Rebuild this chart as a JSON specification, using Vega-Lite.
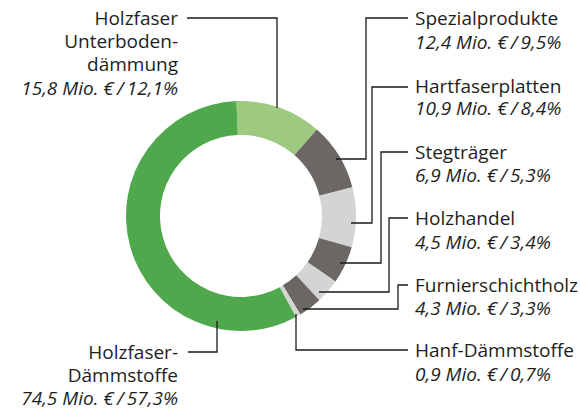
{
  "$schema": "https://vega.github.io/schema/vega-lite/v6.json",
  "width": 580,
  "height": 410,
  "autosize": {"type": "fit", "contains": "padding"},
  "padding": 0,
  "background": "white",
  "config": {"view": {"stroke": null}, "text": {"font": "Open Sans"}},
  "datasets": {
    "segments": [
      {"name": "Holzfaser Unterbodendämmung", "mio": 15.8, "pct": 12.1, "rank": 1},
      {"name": "Spezialprodukte", "mio": 12.4, "pct": 9.5, "rank": 2},
      {"name": "Hartfaserplatten", "mio": 10.9, "pct": 8.4, "rank": 3},
      {"name": "Stegträger", "mio": 6.9, "pct": 5.3, "rank": 4},
      {"name": "Holzhandel", "mio": 4.5, "pct": 3.4, "rank": 5},
      {"name": "Furnierschichtholz", "mio": 4.3, "pct": 3.3, "rank": 6},
      {"name": "Hanf-Dämmstoffe", "mio": 0.9, "pct": 0.7, "rank": 7},
      {"name": "Holzfaser-Dämmstoffe", "mio": 74.5, "pct": 57.3, "rank": 8}
    ],
    "labels": [
      {"name": "Holzfaser Unterbodendämmung", "label": "Holzfaser\nUnterboden-\ndämmung", "side": "left", "x": 178, "ny": 24.8, "y": 89},
      {"name": "Spezialprodukte", "label": "Spezialprodukte", "side": "right", "x": 415, "ny": 24.8, "y": 43},
      {"name": "Hartfaserplatten", "label": "Hartfaserplatten", "side": "right", "x": 415, "ny": 92.8, "y": 109},
      {"name": "Stegträger", "label": "Stegträger", "side": "right", "x": 415, "ny": 158.8, "y": 176},
      {"name": "Holzhandel", "label": "Holzhandel", "side": "right", "x": 415, "ny": 224.8, "y": 243},
      {"name": "Furnierschichtholz", "label": "Furnierschichtholz", "side": "right", "x": 415, "ny": 291.8, "y": 309},
      {"name": "Hanf-Dämmstoffe", "label": "Hanf-Dämmstoffe", "side": "right", "x": 415, "ny": 356.8, "y": 375},
      {"name": "Holzfaser-Dämmstoffe", "label": "Holzfaser-\nDämmstoffe", "side": "left", "x": 178, "ny": 358.8, "y": 399}
    ],
    "leaders": [
      {"name": "Holzfaser Unterbodendämmung", "pt": 1, "x": 187, "y": 18},
      {"name": "Holzfaser Unterbodendämmung", "pt": 2, "x": 277, "y": 18},
      {"name": "Holzfaser Unterbodendämmung", "pt": 3, "x": 277, "y": 108},
      {"name": "Spezialprodukte", "pt": 1, "x": 408, "y": 18},
      {"name": "Spezialprodukte", "pt": 2, "x": 366, "y": 18},
      {"name": "Spezialprodukte", "pt": 3, "x": 366, "y": 159},
      {"name": "Spezialprodukte", "pt": 4, "x": 336, "y": 159},
      {"name": "Hartfaserplatten", "pt": 1, "x": 408, "y": 87},
      {"name": "Hartfaserplatten", "pt": 2, "x": 372, "y": 87},
      {"name": "Hartfaserplatten", "pt": 3, "x": 372, "y": 223},
      {"name": "Hartfaserplatten", "pt": 4, "x": 351, "y": 223},
      {"name": "Stegträger", "pt": 1, "x": 408, "y": 152},
      {"name": "Stegträger", "pt": 2, "x": 381, "y": 152},
      {"name": "Stegträger", "pt": 3, "x": 381, "y": 263},
      {"name": "Stegträger", "pt": 4, "x": 340, "y": 263},
      {"name": "Holzhandel", "pt": 1, "x": 408, "y": 218},
      {"name": "Holzhandel", "pt": 2, "x": 389, "y": 218},
      {"name": "Holzhandel", "pt": 3, "x": 389, "y": 292},
      {"name": "Holzhandel", "pt": 4, "x": 319, "y": 292},
      {"name": "Furnierschichtholz", "pt": 1, "x": 408, "y": 285},
      {"name": "Furnierschichtholz", "pt": 2, "x": 398, "y": 285},
      {"name": "Furnierschichtholz", "pt": 3, "x": 398, "y": 309},
      {"name": "Furnierschichtholz", "pt": 4, "x": 303, "y": 309},
      {"name": "Hanf-Dämmstoffe", "pt": 1, "x": 408, "y": 350},
      {"name": "Hanf-Dämmstoffe", "pt": 2, "x": 296, "y": 350},
      {"name": "Hanf-Dämmstoffe", "pt": 3, "x": 296, "y": 314},
      {"name": "Holzfaser-Dämmstoffe", "pt": 1, "x": 188, "y": 352},
      {"name": "Holzfaser-Dämmstoffe", "pt": 2, "x": 217, "y": 352},
      {"name": "Holzfaser-Dämmstoffe", "pt": 3, "x": 217, "y": 321}
    ]
  },
  "layer": [
    {
      "data": {"name": "segments"},
      "mark": {"type": "arc", "outerRadius": 115, "innerRadius": 81},
      "encoding": {
        "x": {"datum": 241, "type": "quantitative", "scale": {"domain": [0, 580], "nice": false, "zero": false}, "axis": null},
        "y": {"datum": 216, "type": "quantitative", "scale": {"domain": [0, 410], "nice": false, "zero": false, "reverse": true}, "axis": null},
        "theta": {"field": "pct", "type": "quantitative", "stack": true, "scale": {"range": [-0.04, 6.2432]}},
        "order": {"field": "rank", "type": "quantitative"},
        "color": {
          "field": "name",
          "type": "nominal",
          "legend": null,
          "scale": {
            "domain": ["Holzfaser Unterbodendämmung", "Spezialprodukte", "Hartfaserplatten", "Stegträger", "Holzhandel", "Furnierschichtholz", "Hanf-Dämmstoffe", "Holzfaser-Dämmstoffe"],
            "range": ["#9dca80", "#6b6863", "#d4d4d4", "#6b6863", "#d4d4d4", "#6b6863", "#d4d4d4", "#4fa94c"]
          }
        }
      }
    },
    {
      "data": {"name": "leaders"},
      "mark": {"type": "line", "color": "#1a1a1a", "strokeWidth": 1.3},
      "encoding": {
        "x": {"field": "x", "type": "quantitative", "scale": {"domain": [0, 580], "nice": false, "zero": false}, "axis": null},
        "y": {"field": "y", "type": "quantitative", "scale": {"domain": [0, 410], "nice": false, "zero": false, "reverse": true}, "axis": null},
        "detail": {"field": "name"},
        "order": {"field": "pt", "type": "quantitative"}
      }
    },
    {
      "data": {"name": "labels"},
      "transform": [{"filter": "datum.side == 'left'"}],
      "mark": {"type": "text", "align": "right", "baseline": "alphabetic", "lineBreak": "\n", "lineHeight": 23.3, "fontSize": 19, "color": "#1e1e1e"},
      "encoding": {
        "x": {"field": "x", "type": "quantitative", "scale": {"domain": [0, 580], "nice": false, "zero": false}, "axis": null},
        "y": {"field": "ny", "type": "quantitative", "scale": {"domain": [0, 410], "nice": false, "zero": false, "reverse": true}, "axis": null},
        "text": {"field": "label"}
      }
    },
    {
      "data": {"name": "labels"},
      "transform": [{"filter": "datum.side == 'right'"}],
      "mark": {"type": "text", "align": "left", "baseline": "alphabetic", "lineBreak": "\n", "lineHeight": 23.3, "fontSize": 19, "color": "#1e1e1e"},
      "encoding": {
        "x": {"field": "x", "type": "quantitative", "scale": {"domain": [0, 580], "nice": false, "zero": false}, "axis": null},
        "y": {"field": "ny", "type": "quantitative", "scale": {"domain": [0, 410], "nice": false, "zero": false, "reverse": true}, "axis": null},
        "text": {"field": "label"}
      }
    },
    {
      "data": {"name": "labels"},
      "transform": [
        {"filter": "datum.side == 'left'"},
        {"lookup": "name", "from": {"data": {"name": "segments"}, "key": "name", "fields": ["mio", "pct"]}},
        {"calculate": "replace(format(datum.mio, '.1f'), '.', ',') + ' Mio. €\u2009/\u2009' + replace(format(datum.pct, '.1f'), '.', ',') + '%'", "as": "vtext"}
      ],
      "mark": {"type": "text", "align": "right", "baseline": "middle", "fontSize": 19, "fontStyle": "italic", "color": "#1e1e1e"},
      "encoding": {
        "x": {"field": "x", "type": "quantitative", "scale": {"domain": [0, 580], "nice": false, "zero": false}, "axis": null},
        "y": {"field": "y", "type": "quantitative", "scale": {"domain": [0, 410], "nice": false, "zero": false, "reverse": true}, "axis": null},
        "text": {"field": "vtext"}
      }
    },
    {
      "data": {"name": "labels"},
      "transform": [
        {"filter": "datum.side == 'right'"},
        {"lookup": "name", "from": {"data": {"name": "segments"}, "key": "name", "fields": ["mio", "pct"]}},
        {"calculate": "replace(format(datum.mio, '.1f'), '.', ',') + ' Mio. €\u2009/\u2009' + replace(format(datum.pct, '.1f'), '.', ',') + '%'", "as": "vtext"}
      ],
      "mark": {"type": "text", "align": "left", "baseline": "middle", "fontSize": 19, "fontStyle": "italic", "color": "#1e1e1e"},
      "encoding": {
        "x": {"field": "x", "type": "quantitative", "scale": {"domain": [0, 580], "nice": false, "zero": false}, "axis": null},
        "y": {"field": "y", "type": "quantitative", "scale": {"domain": [0, 410], "nice": false, "zero": false, "reverse": true}, "axis": null},
        "text": {"field": "vtext"}
      }
    }
  ]
}
